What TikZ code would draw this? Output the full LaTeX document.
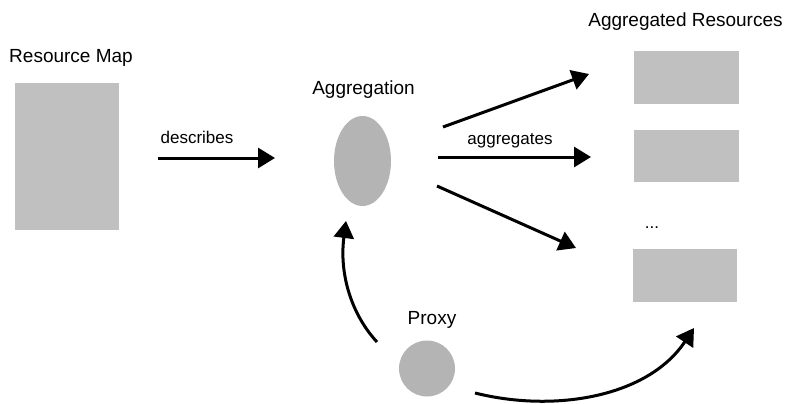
\documentclass[tikz,border=0pt]{standalone}
\usepackage{fontspec}
\setmainfont{Liberation Sans}
\usetikzlibrary{arrows.meta,shapes.geometric}
\definecolor{boxgray}{HTML}{C0C0C0}
\definecolor{blobgray}{HTML}{B4B4B4}
\tikzset{
  title/.style={anchor=base,inner sep=0pt,font=\fontsize{19}{22}\selectfont},
  label/.style={anchor=base,inner sep=0pt,font=\fontsize{17}{20}\selectfont},
  resbox/.style={rectangle,fill=boxgray,draw=none,inner sep=0pt},
  blob/.style={fill=blobgray,draw=none,inner sep=0pt},
  arr/.style={line width=3pt,-{Triangle[length=17pt,width=20pt]}}
}
\begin{document}
\begin{tikzpicture}[x=1pt,y=-1pt]
\useasboundingbox (0,0) rectangle (787,404);

% titles
\node[title] (tmap) at (71,63) {Resource Map};
\node[title] (tagg) at (363.5,94) {Aggregation};
\node[title] (tres) at (685.5,27) {Aggregated Resources};
\node[title] (tproxy) at (432,324) {Proxy};

% shapes
\node[resbox,minimum width=104pt,minimum height=147pt] (map) at (67,156.5) {};
\node[blob,ellipse,minimum width=57pt,minimum height=90pt] (agg) at (362.5,161) {};
\node[blob,circle,minimum size=56pt] (proxy) at (427,368.5) {};
\node[resbox,minimum width=105pt,minimum height=53pt] (r1) at (686.5,77.5) {};
\node[resbox,minimum width=105pt,minimum height=52pt] (r2) at (686.5,156) {};
\node[resbox,minimum width=104pt,minimum height=53pt] (r3) at (685,275.5) {};
\node[label] (dots) at (652,228) {...};

% connector ends
\coordinate (d0) at (158,158);
\coordinate (d1) at (275,158);
\coordinate (a0) at (443,127);
\coordinate (a1) at (589,74);
\coordinate (b0) at (438,157);
\coordinate (b1) at (591,157);
\coordinate (c0) at (437,186);
\coordinate (c1) at (576,248);
\coordinate (p0) at (377,342);
\coordinate (p1) at (346,221);
\coordinate (q0) at (475,393);
\coordinate (q1) at (694,328);

% connectors
\draw[arr] (d0) -- (d1);
\node[label] (ldesc) at (197,143) {describes};
\draw[arr] (a0) -- (a1);
\draw[arr] (b0) -- (b1);
\node[label] (laggr) at (510,144) {aggregates};
\draw[arr] (c0) -- (c1);
\draw[arr] (p0) .. controls (352,315) and (339,275) .. (p1);
\draw[arr] (q0) .. controls (555,413) and (648,397) .. (q1);
\end{tikzpicture}
\end{document}
